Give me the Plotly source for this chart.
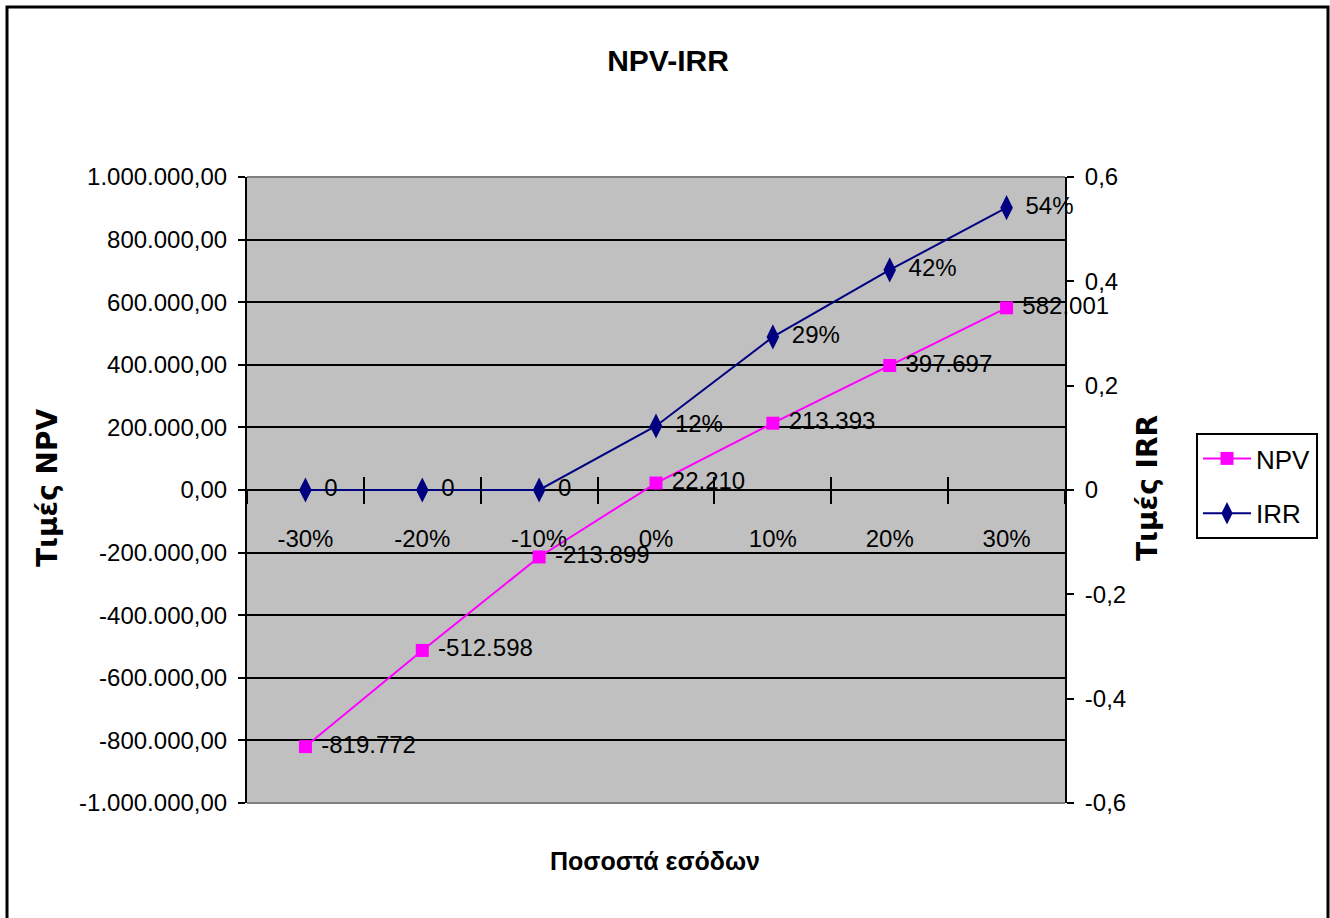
import plotly.graph_objects as go

categories = ["-30%", "-20%", "-10%", "0%", "10%", "20%", "30%"]
npv_values = [-819772, -512598, -213899, 22210, 213393, 397697, 582001]
irr_values = [0, 0, 0, 0.1227, 0.2935, 0.4219, 0.5412]

npv_tickvals = [1000000, 800000, 600000, 400000, 200000, 0, -200000, -400000,
                -600000, -800000, -1000000]
npv_ticktext = ["1.000.000,00", "800.000,00", "600.000,00", "400.000,00", "200.000,00",
                "0,00", "-200.000,00", "-400.000,00", "-600.000,00", "-800.000,00",
                "-1.000.000,00"]
irr_tickvals = [0.6, 0.4, 0.2, 0, -0.2, -0.4, -0.6]
irr_ticktext = ["0,6", "0,4", "0,2", "0", "-0,2", "-0,4", "-0,6"]

npv_labels = [" " + f"{v:,}".replace(",", ".") for v in npv_values]
irr_labels = [" " + ("0" if v == 0 else f"{v:.0%}") for v in irr_values]

FONT = "Liberation Sans, Arial, sans-serif"

fig = go.Figure()
fig.add_trace(go.Scatter(
    x=categories, y=npv_values, name="NPV", mode="lines+markers+text",
    legendgroup="npv",
    line=dict(color="#FF00FF", width=2),
    marker=dict(symbol="square", size=13, color="#FF00FF"),
    text=npv_labels, textposition="middle right",
    textfont=dict(family=FONT, size=24, color="black"),
    cliponaxis=False, xaxis="x", yaxis="y",
))
fig.add_trace(go.Scatter(
    x=categories, y=irr_values, name="IRR", mode="lines+markers+text",
    legendgroup="irr",
    line=dict(color="#000080", width=2),
    marker=dict(symbol="diamond-tall", size=18, color="#000080"),
    text=irr_labels, textposition="middle right",
    textfont=dict(family=FONT, size=24, color="black"),
    cliponaxis=False, xaxis="x", yaxis="y2",
))
# invisible trace to activate the inner-tick overlay x axis
fig.add_trace(go.Scatter(x=categories, y=[None] * len(categories), xaxis="x2", yaxis="y",
                         showlegend=False, hoverinfo="skip"))

L, R, T, B = 247, 265, 177, 115

axis_x_common = dict(
    type="category", categoryorder="array", categoryarray=categories,
    range=[-0.5, 6.5], tickson="boundaries", ticklen=13, tickwidth=2,
    tickcolor="black", showgrid=False, zeroline=False, showline=False,
    anchor="free", position=0.5,
)

fig.update_layout(
    width=1330, height=918,
    margin=dict(l=L, r=R, t=T, b=B),
    paper_bgcolor="white", plot_bgcolor="#C0C0C0",
    showlegend=True,
    title=dict(text="<b>NPV-IRR</b>", x=668 / 1330, xanchor="center",
               y=1 - 60 / 918, yanchor="middle", yref="container",
               font=dict(family=FONT, size=30, color="black")),
    xaxis=dict(**axis_x_common, ticks="outside", ticklabelstandoff=32,
               tickfont=dict(family=FONT, size=24, color="black")),
    xaxis2=dict(**axis_x_common, ticks="inside", overlaying="x", showticklabels=False),
    yaxis=dict(range=[-1000000, 1000000], tickvals=npv_tickvals, ticktext=npv_ticktext,
               ticks="outside", ticklen=7, tickwidth=2, tickcolor="black",
               showline=True, linecolor="black", linewidth=2,
               showgrid=True, gridcolor="black", gridwidth=2, zeroline=False,
               ticklabelstandoff=6,
               tickfont=dict(family=FONT, size=24, color="black")),
    yaxis2=dict(range=[-0.6, 0.6], tickvals=irr_tickvals, ticktext=irr_ticktext,
                overlaying="y", side="right", anchor="x",
                ticks="outside", ticklen=7, tickwidth=2, tickcolor="black",
                showline=True, linecolor="black", linewidth=2,
                showgrid=False, zeroline=False, ticklabelstandoff=6,
                tickfont=dict(family=FONT, size=24, color="black")),
    legend=dict(x=(1196 - L) / 818, y=(803 - 433) / 626, xanchor="left", yanchor="top",
                bgcolor="white", bordercolor="black", borderwidth=2,
                font=dict(family=FONT, size=26, color="black"),
                itemwidth=48, tracegroupgap=18),
    annotations=[
        dict(text="<b>Τιμές NPV</b>", xref="paper", yref="paper",
             x=(47 - L) / 818, y=(803 - 488) / 626, textangle=-90,
             showarrow=False, xanchor="center", yanchor="middle",
             font=dict(family="DejaVu Sans", size=28, color="black")),
        dict(text="<b>Τιμές IRR</b>", xref="paper", yref="paper",
             x=(1147 - L) / 818, y=(803 - 488) / 626, textangle=-90,
             showarrow=False, xanchor="center", yanchor="middle",
             font=dict(family="DejaVu Sans", size=28, color="black")),
        dict(text="<b>Ποσοστά εσόδων</b>", xref="paper", yref="paper",
             x=(655 - L) / 818, y=(803 - 861) / 626,
             showarrow=False, xanchor="center", yanchor="middle",
             font=dict(family=FONT, size=25, color="black")),
    ],
    shapes=[
        dict(type="line", xref="paper", yref="paper", x0=0, x1=1, y0=1, y1=1,
             line=dict(color="#808080", width=2), layer="above"),
        dict(type="line", xref="paper", yref="paper", x0=0, x1=1, y0=0, y1=0,
             line=dict(color="#808080", width=2), layer="above"),
        dict(type="rect", xref="paper", yref="paper",
             x0=(7 - L) / 818, x1=(1328 - L) / 818,
             y0=(803 - 930) / 626, y1=(803 - 7) / 626,
             line=dict(color="black", width=3), fillcolor="rgba(0,0,0,0)"),
    ],
)

fig.write_html("out.html")
